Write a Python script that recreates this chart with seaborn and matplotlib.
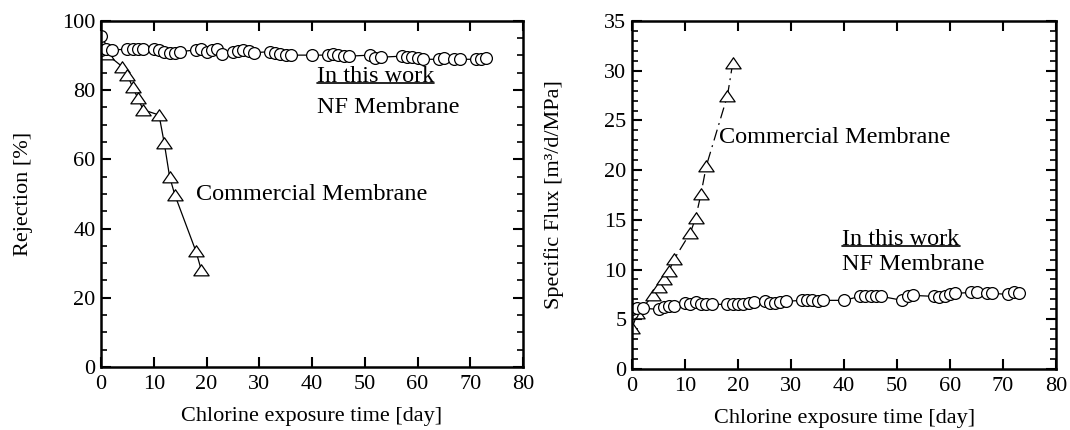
import numpy as np
import pandas as pd
import seaborn as sns
import matplotlib
matplotlib.use("Agg")
import matplotlib.pyplot as plt
from matplotlib.ticker import MultipleLocator
from matplotlib.path import Path

# ---------------- data ----------------
nf_days = [0, 0, 1, 2, 5, 6, 7, 8, 10, 11, 12, 13, 14, 15, 18, 19, 20, 21, 22, 23,
           25, 26, 27, 28, 29, 32, 33, 34, 35, 36, 40, 43, 44, 45, 46, 47, 51, 52, 53,
           57, 58, 59, 60, 61, 64, 65, 67, 68, 71, 72, 73]
nf_rejection = [95.5, 91.6, 91.8, 91.6, 91.8, 91.8, 91.8, 92.0, 91.8, 91.6, 91.1, 90.8,
                90.8, 91.1, 91.6, 91.8, 91.1, 91.6, 91.8, 90.3, 91.1, 91.4, 91.6, 91.4,
                90.8, 91.1, 90.8, 90.4, 90.1, 90.1, 90.1, 90.1, 90.4, 90.1, 89.8, 89.8,
                90.1, 89.2, 89.5, 89.8, 89.5, 89.5, 89.2, 88.9, 88.9, 89.2, 88.9, 88.9,
                88.9, 88.9, 89.2]
nf_flux = [5.6, 6.0, 6.1, 6.1, 6.0, 6.2, 6.3, 6.3, 6.6, 6.5, 6.7, 6.5, 6.5, 6.5,
           6.5, 6.5, 6.5, 6.5, 6.6, 6.7, 6.8, 6.6, 6.6, 6.7, 6.8, 6.9, 6.9, 6.9, 6.8,
           6.9, 6.9, 7.3, 7.3, 7.3, 7.3, 7.3, 6.9, 7.3, 7.4, 7.3, 7.2, 7.3, 7.5, 7.6,
           7.7, 7.7, 7.6, 7.6, 7.5, 7.7, 7.6]

com_days = [0, 1, 4, 5, 6, 7, 8, 11, 12, 13, 14, 18, 19]
com_rejection = [93.6, 90.5, 86.8, 84.4, 80.8, 77.6, 74.3, 72.8, 64.6, 55.0, 49.7, 33.4, 28.1]
com_flux = [4.1, 5.6, 7.4, 8.2, 9.0, 9.9, 11.1, 13.7, 15.2, 17.6, 20.4, 27.5, 30.8]

x_label = "Chlorine exposure time [day]"
y_label_left = "Rejection [%]"
y_label_right = "Specific Flux [m³/d/MPa]"

# ---------------- style ----------------
sns.set_style("ticks")
plt.rcParams["font.family"] = ["Liberation Serif", "DejaVu Serif"]
plt.rcParams["font.size"] = 16
for k in ("text.color", "axes.labelcolor", "xtick.color", "ytick.color",
          "axes.edgecolor", "xtick.labelcolor", "ytick.labelcolor"):
    plt.rcParams[k] = "black"

tri = Path([(-1, -0.7), (1, -0.7), (0, 0.75), (-1, -0.7)],
           [Path.MOVETO, Path.LINETO, Path.LINETO, Path.CLOSEPOLY])

fig = plt.figure(figsize=(10.7, 4.3), dpi=100)
axL = fig.add_axes([0.0944, 0.1465, 0.3944, 0.805])
axR = fig.add_axes([0.5907, 0.142, 0.3963, 0.809])

circ_kw = dict(marker="o", markersize=8.5, markerfacecolor="white",
               markeredgecolor="black", markeredgewidth=0.9, color="black",
               linewidth=0.9, estimator=None, sort=False)
tri_kw = dict(marker=tri, markersize=11, markerfacecolor="white",
              markeredgecolor="black", markeredgewidth=0.9, color="black",
              linewidth=0.9, estimator=None, sort=False)

# left panel
sns.lineplot(x=com_days, y=com_rejection, ax=axL, **tri_kw)
sns.lineplot(x=nf_days, y=nf_rejection, ax=axL, **circ_kw)
# right panel
l = sns.lineplot(x=com_days, y=com_flux, ax=axR, **tri_kw)
l.lines[0].set_dashes([9, 4, 1.5, 4])
sns.lineplot(x=nf_days, y=nf_flux, ax=axR, **circ_kw)

for ax in (axL, axR):
    ax.set_xlim(0, 80)
    ax.xaxis.set_major_locator(MultipleLocator(10))
    for s in ax.spines.values():
        s.set_linewidth(1.8)
        s.set_visible(True)
        s.set_color("black")
    ax.tick_params(axis="both", which="both", direction="in", top=True, right=True,
                   colors="black", labelcolor="black", labelsize=16)
    ax.tick_params(axis="both", which="major", length=7, width=1.5)
    ax.tick_params(axis="both", which="minor", length=4, width=1.2)
    ax.tick_params(axis="x", pad=6)
    ax.tick_params(axis="y", pad=4)
    ax.set_xlabel(x_label, fontsize=16, color="black")
    ax.xaxis.set_label_coords(0.5, -0.115)

axL.set_ylim(0, 100)
axL.yaxis.set_major_locator(MultipleLocator(20))
axL.yaxis.set_minor_locator(MultipleLocator(5))
axL.set_ylabel(y_label_left, fontsize=16, color="black")
axL.yaxis.set_label_coords(-0.16, 0.5)

axR.set_ylim(0, 35)
axR.yaxis.set_major_locator(MultipleLocator(5))
axR.yaxis.set_minor_locator(MultipleLocator(1))
axR.set_ylabel(y_label_right, fontsize=16, color="black")
axR.yaxis.set_label_coords(-0.16, 0.5)

# annotations
fs = 17.5
tL1 = axL.text(40.9, 83.8, "In this work", fontsize=fs, va="center", ha="left", color="black")
axL.text(40.9, 75.1, "NF Membrane", fontsize=fs, va="center", ha="left", color="black")
axL.text(18.1, 49.8, "Commercial Membrane", fontsize=fs, va="center", ha="left", color="black")

axR.text(16.4, 23.3, "Commercial Membrane", fontsize=fs, va="center", ha="left", color="black")
tR1 = axR.text(39.7, 13.0, "In this work", fontsize=fs, va="center", ha="left", color="black")
axR.text(39.7, 10.5, "NF Membrane", fontsize=fs, va="center", ha="left", color="black")

fig.canvas.draw()
for ax, t in ((axL, tL1), (axR, tR1)):
    bb = t.get_window_extent().transformed(ax.transAxes.inverted())
    y0 = bb.y0 + 0.012
    ax.plot([bb.x0, bb.x1], [y0, y0], transform=ax.transAxes, color="black",
            linewidth=1.2, clip_on=False)

fig.savefig("out.png", dpi=100)
